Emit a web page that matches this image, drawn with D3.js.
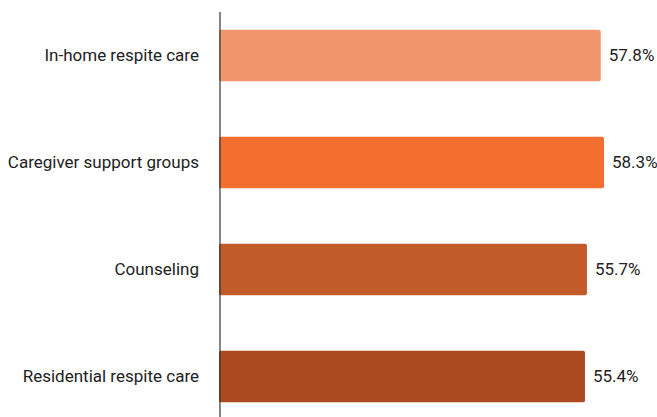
<!DOCTYPE html>
<html>
<head>
<meta charset="utf-8">
<script src="https://cdn.jsdelivr.net/npm/d3@7"></script>
<style>
  html, body { margin: 0; padding: 0; background: #fff; }
  svg { display: block; }
</style>
</head>
<body>
<svg id="chart" width="657" height="417"></svg>
<script>
const categories = ["In-home respite care", "Caregiver support groups", "Counseling", "Residential respite care"];
const values = [57.8, 58.3, 55.7, 55.4];
const colors = ["#F0956C", "#F26F31", "#C35A29", "#AB4A1E"];

const width = 657, height = 417;
const svg = d3.select("#chart");

const x = d3.scaleLinear().domain([0, 100]).range([221, 221 + 657]);
const y = d3.scaleBand().domain(categories).range([2, 430]).paddingInner(0.52).paddingOuter(0.26);

const data = categories.map((c, i) => ({ cat: c, value: values[i], color: colors[i] }));

svg.selectAll("rect.bar")
  .data(data)
  .join("rect")
  .attr("class", "bar")
  .attr("x", x(0) - 2)
  .attr("y", d => y(d.cat))
  .attr("width", d => x(d.value) - x(0) + 2)
  .attr("height", y.bandwidth())
  .attr("rx", 2)
  .attr("fill", d => d.color);

svg.selectAll("text.val")
  .data(data)
  .join("text")
  .attr("class", "val")
  .attr("x", d => x(d.value) + 8)
  .attr("y", d => y(d.cat) + y.bandwidth() / 2)
  .attr("dy", "0.35em")
  .attr("font-family", "Roboto, sans-serif")
  .attr("font-size", 17)
  .attr("fill", "#222")
  .text(d => d.value.toFixed(1) + "%");

const yAxis = d3.axisLeft(y).tickSize(0).tickPadding(21);
const g = svg.append("g").attr("transform", `translate(${x(0) - 1},0)`).call(yAxis);
g.select(".domain").remove();
g.selectAll("text")
  .attr("font-family", "Roboto, sans-serif")
  .attr("font-size", 17)
  .attr("fill", "#222");

svg.append("line")
  .attr("x1", x(0) - 1).attr("x2", x(0) - 1)
  .attr("y1", 12).attr("y2", height)
  .attr("stroke", "#333")
  .attr("stroke-width", 1.2);
</script>
</body>
</html>
